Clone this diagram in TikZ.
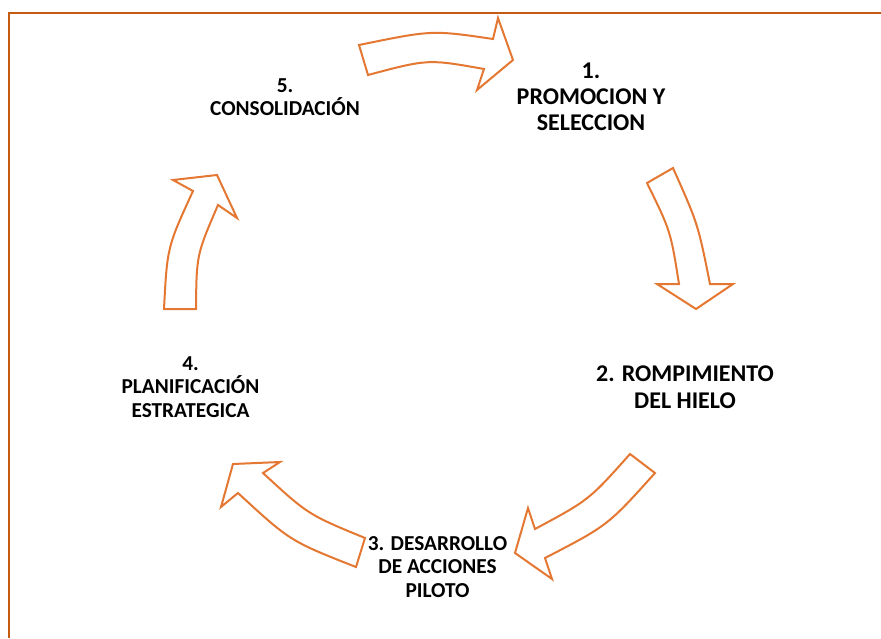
\documentclass[tikz,border=0pt]{standalone}
\usepackage{fontspec}
\setmainfont{Carlito}
\definecolor{arrowor}{HTML}{E47832}
\definecolor{frameor}{HTML}{C55A11}
\tikzset{
  cyclearrow/.style={draw=arrowor, line width=2pt, fill=white, line join=miter},
  steplabel/.style={align=center, inner sep=0pt},
  biglabel/.style={steplabel, font={\fontsize{24}{26.3}\selectfont\bfseries}},
  smalllabel/.style={steplabel, font={\fontsize{21.3}{23.5}\selectfont\bfseries}},
  frameline/.style={draw=frameor, line width=1.7pt}
}
\begin{document}
\begin{tikzpicture}[x=1pt,y=-1pt]
\useasboundingbox (0,0) rectangle (881,638);
% frame (top and left sides only)
\draw[frameline] (9,638) -- (9,13.3) -- (881,13.3);

% step labels
\node[biglabel]   (t1) at (591,96.7)  {1.\\PROMOCION Y\\SELECCION};
\node[biglabel]   (t2) at (685,387.3) {2. ROMPIMIENTO\\DEL HIELO};
\node[smalllabel] (t3) at (437.5,567) {3. DESARROLLO\\DE ACCIONES\\PILOTO};
\node[smalllabel] (t4) at (190.5,386.7) {4.\\PLANIFICACIÓN\\ESTRATEGICA};
\node[smalllabel] (t5) at (285,97.2)  {5.\\CONSOLIDACIÓN};

% arrow 5 -> 1
\draw[cyclearrow] (359,45) .. controls (432,30) .. (493,39) -- (498,18) -- (513,60)
  -- (477,90) -- (484,69) .. controls (428,59) .. (368,75) -- cycle;
% arrow 1 -> 2
\draw[cyclearrow] (647,183) -- (673,168) .. controls (698,224) .. (710,284) -- (733,284)
  -- (696,309) -- (657,284) -- (679,284) .. controls (670.6,231) .. cycle;
% arrow 2 -> 3
\draw[cyclearrow] (630,454) -- (655,473) .. controls (607.8,525.5) .. (545,558) -- (552,579)
  -- (515,553) -- (528,508) -- (535,529) .. controls (589,500) .. cycle;
% arrow 3 -> 4
\draw[cyclearrow] (365,538) -- (356,567) .. controls (290,541) .. (238,493) -- (221,507)
  -- (233,464) -- (280,462) -- (263,473) .. controls (308,514.5) .. cycle;
% arrow 4 -> 5
\draw[cyclearrow] (196,309) -- (164,309) .. controls (167.2,247.2) .. (193,191) -- (173,180)
  -- (217,175) -- (237,218) -- (218,205) .. controls (196.5,254.8) .. cycle;
\end{tikzpicture}
\end{document}
